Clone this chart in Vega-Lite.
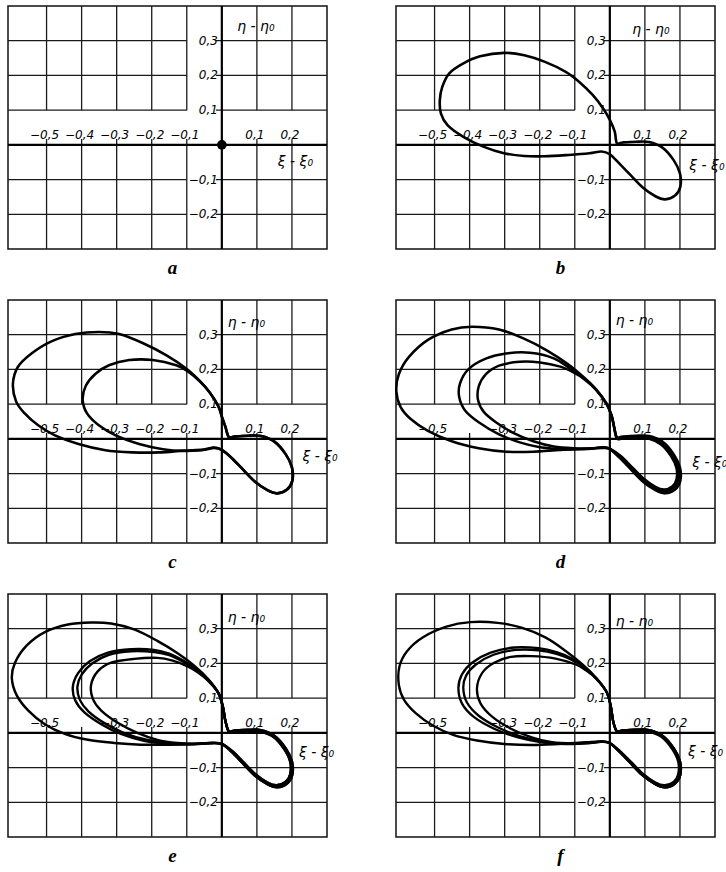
{
  "$schema": "https://vega.github.io/schema/vega-lite/v6.json",
  "background": "white",
  "padding": {"left": 6, "top": 4, "right": 0, "bottom": 0},
  "bounds": "flush",
  "columns": 2,
  "spacing": {"row": 51, "column": 69},
  "config": {
    "view": {"stroke": "#111", "strokeWidth": 1.5},
    "title": {"orient": "bottom", "font": "Liberation Serif", "fontSize": 19, "fontStyle": "italic", "fontWeight": "bold", "offset": 9, "baseline": "alphabetic", "anchor": "middle", "dx": 5, "frame": "group", "color": "#000"}
  },
  "datasets": {
    "grid": [
      {"x": -0.5, "x2": -0.5, "y": 0.1, "y2": 0.4}, {"x": -0.5, "x2": -0.5, "y": -0.3, "y2": 0.017},
      {"x": -0.4, "x2": -0.4, "y": 0.1, "y2": 0.4}, {"x": -0.4, "x2": -0.4, "y": -0.3, "y2": 0.017},
      {"x": -0.3, "x2": -0.3, "y": 0.1, "y2": 0.4}, {"x": -0.3, "x2": -0.3, "y": -0.3, "y2": 0.017},
      {"x": -0.2, "x2": -0.2, "y": 0.1, "y2": 0.4}, {"x": -0.2, "x2": -0.2, "y": -0.3, "y2": 0.017},
      {"x": -0.1, "x2": -0.1, "y": 0.1, "y2": 0.4}, {"x": -0.1, "x2": -0.1, "y": -0.3, "y2": 0.017},
      {"x": 0.1, "x2": 0.1, "y": 0.1, "y2": 0.4}, {"x": 0.1, "x2": 0.1, "y": -0.3, "y2": 0.017},
      {"x": 0.2, "x2": 0.2, "y": 0.1, "y2": 0.4}, {"x": 0.2, "x2": 0.2, "y": -0.3, "y2": 0.017},
      {"x": -0.61, "x2": -0.1, "y": 0.3, "y2": 0.3}, {"x": -0.017, "x2": 0.3, "y": 0.3, "y2": 0.3},
      {"x": -0.61, "x2": -0.1, "y": 0.2, "y2": 0.2}, {"x": -0.017, "x2": 0.3, "y": 0.2, "y2": 0.2},
      {"x": -0.61, "x2": -0.1, "y": 0.1, "y2": 0.1}, {"x": -0.017, "x2": 0.3, "y": 0.1, "y2": 0.1},
      {"x": -0.61, "x2": -0.1, "y": -0.1, "y2": -0.1}, {"x": -0.017, "x2": 0.3, "y": -0.1, "y2": -0.1},
      {"x": -0.61, "x2": -0.1, "y": -0.2, "y2": -0.2}, {"x": -0.017, "x2": 0.3, "y": -0.2, "y2": -0.2}
    ],
    "axes": [
      {"x": -0.61, "x2": 0.3, "y": 0, "y2": 0},
      {"x": 0, "x2": 0, "y": -0.3, "y2": 0.4}
    ],
    "ylab": [
      {"x": 0, "y": 0.3, "t": "0,3"}, {"x": 0, "y": 0.2, "t": "0,2"}, {"x": 0, "y": 0.1, "t": "0,1"},
      {"x": 0, "y": -0.1, "t": "−0,1"}, {"x": 0, "y": -0.2, "t": "−0,2"}
    ],
    "xlab": [
      {"g": "a", "x": -0.5, "y": 0, "t": "−0,5"}, {"g": "a", "x": -0.4, "y": 0, "t": "−0,4"}, {"g": "a", "x": -0.3, "y": 0, "t": "−0,3"}, {"g": "a", "x": -0.2, "y": 0, "t": "−0,2"}, {"g": "a", "x": -0.1, "y": 0, "t": "−0,1"}, {"g": "a", "x": 0.1, "y": 0, "t": "0,1"}, {"g": "a", "x": 0.2, "y": 0, "t": "0,2"},
      {"g": "b", "x": -0.5, "y": 0, "t": "−0,5"}, {"g": "b", "x": -0.4, "y": 0, "t": "−0,4"}, {"g": "b", "x": -0.3, "y": 0, "t": "−0,3"}, {"g": "b", "x": -0.2, "y": 0, "t": "−0,2"}, {"g": "b", "x": -0.1, "y": 0, "t": "−0,1"}, {"g": "b", "x": 0.1, "y": 0, "t": "0,1"}, {"g": "b", "x": 0.2, "y": 0, "t": "0,2"},
      {"g": "c", "x": -0.5, "y": 0, "t": "−0,5"}, {"g": "c", "x": -0.4, "y": 0, "t": "−0,4"}, {"g": "c", "x": -0.3, "y": 0, "t": "−0,3"}, {"g": "c", "x": -0.2, "y": 0, "t": "−0,2"}, {"g": "c", "x": -0.1, "y": 0, "t": "−0,1"}, {"g": "c", "x": 0.1, "y": 0, "t": "0,1"}, {"g": "c", "x": 0.2, "y": 0, "t": "0,2"},
      {"g": "d", "x": -0.5, "y": 0, "t": "−0,5"}, {"g": "d", "x": -0.3, "y": 0, "t": "−0,3"}, {"g": "d", "x": -0.2, "y": 0, "t": "−0,2"}, {"g": "d", "x": -0.1, "y": 0, "t": "−0,1"}, {"g": "d", "x": 0.1, "y": 0, "t": "0,1"}, {"g": "d", "x": 0.2, "y": 0, "t": "0,2"},
      {"g": "e", "x": -0.5, "y": 0, "t": "−0,5"}, {"g": "e", "x": -0.3, "y": 0, "t": "−0,3"}, {"g": "e", "x": -0.2, "y": 0, "t": "−0,2"}, {"g": "e", "x": -0.1, "y": 0, "t": "−0,1"}, {"g": "e", "x": 0.1, "y": 0, "t": "0,1"}, {"g": "e", "x": 0.2, "y": 0, "t": "0,2"},
      {"g": "f", "x": -0.5, "y": 0, "t": "−0,5"}, {"g": "f", "x": -0.3, "y": 0, "t": "−0,3"}, {"g": "f", "x": -0.2, "y": 0, "t": "−0,2"}, {"g": "f", "x": -0.1, "y": 0, "t": "−0,1"}, {"g": "f", "x": 0.1, "y": 0, "t": "0,1"}, {"g": "f", "x": 0.2, "y": 0, "t": "0,2"}
    ],
    "names": [
      {"g": "a", "x": 0.097, "y": 0.34, "t": "η - η₀"}, {"g": "a", "x": 0.21, "y": -0.05, "t": "ξ - ξ₀"},
      {"g": "b", "x": 0.117, "y": 0.33, "t": "η - η₀"}, {"g": "b", "x": 0.277, "y": -0.06, "t": "ξ - ξ₀"},
      {"g": "c", "x": 0.07, "y": 0.333, "t": "η - η₀"}, {"g": "c", "x": 0.28, "y": -0.052, "t": "ξ - ξ₀"},
      {"g": "d", "x": 0.07, "y": 0.34, "t": "η - η₀"}, {"g": "d", "x": 0.285, "y": -0.07, "t": "ξ - ξ₀"},
      {"g": "e", "x": 0.07, "y": 0.33, "t": "η - η₀"}, {"g": "e", "x": 0.27, "y": -0.058, "t": "ξ - ξ₀"},
      {"g": "f", "x": 0.07, "y": 0.32, "t": "η - η₀"}, {"g": "f", "x": 0.273, "y": -0.055, "t": "ξ - ξ₀"}
    ],
    "curves": [
      {"g": "b", "l": "b1", "x": 0.014, "y": 0.038}, {"g": "b", "l": "b1", "x": 0.0, "y": 0.072}, {"g": "b", "l": "b1", "x": -0.019, "y": 0.105}, {"g": "b", "l": "b1", "x": -0.049, "y": 0.144}, {"g": "b", "l": "b1", "x": -0.088, "y": 0.182}, {"g": "b", "l": "b1", "x": -0.127, "y": 0.211}, {"g": "b", "l": "b1", "x": -0.185, "y": 0.239}, {"g": "b", "l": "b1", "x": -0.244, "y": 0.258}, {"g": "b", "l": "b1", "x": -0.302, "y": 0.265}, {"g": "b", "l": "b1", "x": -0.37, "y": 0.255}, {"g": "b", "l": "b1", "x": -0.419, "y": 0.234}, {"g": "b", "l": "b1", "x": -0.458, "y": 0.206}, {"g": "b", "l": "b1", "x": -0.478, "y": 0.167}, {"g": "b", "l": "b1", "x": -0.485, "y": 0.129}, {"g": "b", "l": "b1", "x": -0.482, "y": 0.091}, {"g": "b", "l": "b1", "x": -0.463, "y": 0.057}, {"g": "b", "l": "b1", "x": -0.419, "y": 0.024}, {"g": "b", "l": "b1", "x": -0.361, "y": -0.005}, {"g": "b", "l": "b1", "x": -0.302, "y": -0.024}, {"g": "b", "l": "b1", "x": -0.244, "y": -0.032}, {"g": "b", "l": "b1", "x": -0.185, "y": -0.033}, {"g": "b", "l": "b1", "x": -0.117, "y": -0.029}, {"g": "b", "l": "b1", "x": -0.058, "y": -0.024}, {"g": "b", "l": "b1", "x": -0.024, "y": -0.019}, {"g": "b", "l": "b1", "x": 0.0, "y": -0.027},
      {"g": "b", "l": "b1", "x": 0.028, "y": -0.055}, {"g": "b", "l": "b1", "x": 0.06, "y": -0.088}, {"g": "b", "l": "b1", "x": 0.093, "y": -0.122}, {"g": "b", "l": "b1", "x": 0.13, "y": -0.148}, {"g": "b", "l": "b1", "x": 0.158, "y": -0.157}, {"g": "b", "l": "b1", "x": 0.186, "y": -0.146}, {"g": "b", "l": "b1", "x": 0.201, "y": -0.121}, {"g": "b", "l": "b1", "x": 0.2, "y": -0.082}, {"g": "b", "l": "b1", "x": 0.182, "y": -0.044}, {"g": "b", "l": "b1", "x": 0.15, "y": -0.008}, {"g": "b", "l": "b1", "x": 0.112, "y": 0.008}, {"g": "b", "l": "b1", "x": 0.074, "y": 0.009}, {"g": "b", "l": "b1", "x": 0.037, "y": 0.007}, {"g": "b", "l": "b1", "x": 0.02, "y": 0.005},

      {"g": "c", "l": "c1", "x": 0.01, "y": 0.035}, {"g": "c", "l": "c1", "x": 0.0, "y": 0.064}, {"g": "c", "l": "c1", "x": -0.01, "y": 0.094}, {"g": "c", "l": "c1", "x": -0.034, "y": 0.133}, {"g": "c", "l": "c1", "x": -0.063, "y": 0.167}, {"g": "c", "l": "c1", "x": -0.101, "y": 0.202}, {"g": "c", "l": "c1", "x": -0.159, "y": 0.241}, {"g": "c", "l": "c1", "x": -0.226, "y": 0.276}, {"g": "c", "l": "c1", "x": -0.293, "y": 0.302}, {"g": "c", "l": "c1", "x": -0.351, "y": 0.308}, {"g": "c", "l": "c1", "x": -0.418, "y": 0.302}, {"g": "c", "l": "c1", "x": -0.486, "y": 0.281}, {"g": "c", "l": "c1", "x": -0.543, "y": 0.246}, {"g": "c", "l": "c1", "x": -0.582, "y": 0.207}, {"g": "c", "l": "c1", "x": -0.596, "y": 0.158}, {"g": "c", "l": "c1", "x": -0.587, "y": 0.108}, {"g": "c", "l": "c1", "x": -0.563, "y": 0.074}, {"g": "c", "l": "c1", "x": -0.524, "y": 0.039}, {"g": "c", "l": "c1", "x": -0.476, "y": 0.01}, {"g": "c", "l": "c1", "x": -0.409, "y": -0.015}, {"g": "c", "l": "c1", "x": -0.332, "y": -0.033}, {"g": "c", "l": "c1", "x": -0.255, "y": -0.039}, {"g": "c", "l": "c1", "x": -0.178, "y": -0.039}, {"g": "c", "l": "c1", "x": -0.111, "y": -0.034}, {"g": "c", "l": "c1", "x": -0.053, "y": -0.031}, {"g": "c", "l": "c1", "x": -0.022, "y": -0.025}, {"g": "c", "l": "c1", "x": 0.0, "y": -0.032},
      {"g": "c", "l": "c1", "x": 0.028, "y": -0.055}, {"g": "c", "l": "c1", "x": 0.06, "y": -0.088}, {"g": "c", "l": "c1", "x": 0.093, "y": -0.122}, {"g": "c", "l": "c1", "x": 0.13, "y": -0.148}, {"g": "c", "l": "c1", "x": 0.158, "y": -0.157}, {"g": "c", "l": "c1", "x": 0.186, "y": -0.146}, {"g": "c", "l": "c1", "x": 0.201, "y": -0.121}, {"g": "c", "l": "c1", "x": 0.2, "y": -0.082}, {"g": "c", "l": "c1", "x": 0.182, "y": -0.044}, {"g": "c", "l": "c1", "x": 0.15, "y": -0.008}, {"g": "c", "l": "c1", "x": 0.112, "y": 0.008}, {"g": "c", "l": "c1", "x": 0.074, "y": 0.009}, {"g": "c", "l": "c1", "x": 0.037, "y": 0.007}, {"g": "c", "l": "c1", "x": 0.02, "y": 0.005},

      {"g": "c", "l": "c2", "x": 0.01, "y": 0.035}, {"g": "c", "l": "c2", "x": 0.0, "y": 0.064}, {"g": "c", "l": "c2", "x": -0.01, "y": 0.094}, {"g": "c", "l": "c2", "x": -0.034, "y": 0.133}, {"g": "c", "l": "c2", "x": -0.063, "y": 0.166}, {"g": "c", "l": "c2", "x": -0.095, "y": 0.193}, {"g": "c", "l": "c2", "x": -0.13, "y": 0.212}, {"g": "c", "l": "c2", "x": -0.197, "y": 0.227}, {"g": "c", "l": "c2", "x": -0.264, "y": 0.227}, {"g": "c", "l": "c2", "x": -0.322, "y": 0.212}, {"g": "c", "l": "c2", "x": -0.361, "y": 0.187}, {"g": "c", "l": "c2", "x": -0.388, "y": 0.153}, {"g": "c", "l": "c2", "x": -0.397, "y": 0.113}, {"g": "c", "l": "c2", "x": -0.385, "y": 0.074}, {"g": "c", "l": "c2", "x": -0.351, "y": 0.039}, {"g": "c", "l": "c2", "x": -0.303, "y": 0.01}, {"g": "c", "l": "c2", "x": -0.236, "y": -0.015}, {"g": "c", "l": "c2", "x": -0.168, "y": -0.03}, {"g": "c", "l": "c2", "x": -0.111, "y": -0.035}, {"g": "c", "l": "c2", "x": -0.053, "y": -0.032}, {"g": "c", "l": "c2", "x": -0.022, "y": -0.026}, {"g": "c", "l": "c2", "x": 0.0, "y": -0.032},
      {"g": "c", "l": "c2", "x": 0.028, "y": -0.055}, {"g": "c", "l": "c2", "x": 0.06, "y": -0.088}, {"g": "c", "l": "c2", "x": 0.093, "y": -0.122}, {"g": "c", "l": "c2", "x": 0.13, "y": -0.148}, {"g": "c", "l": "c2", "x": 0.158, "y": -0.157}, {"g": "c", "l": "c2", "x": 0.186, "y": -0.146}, {"g": "c", "l": "c2", "x": 0.201, "y": -0.121}, {"g": "c", "l": "c2", "x": 0.2, "y": -0.082}, {"g": "c", "l": "c2", "x": 0.182, "y": -0.044}, {"g": "c", "l": "c2", "x": 0.15, "y": -0.008}, {"g": "c", "l": "c2", "x": 0.112, "y": 0.008}, {"g": "c", "l": "c2", "x": 0.074, "y": 0.009}, {"g": "c", "l": "c2", "x": 0.037, "y": 0.007}, {"g": "c", "l": "c2", "x": 0.02, "y": 0.005},

      {"g": "d", "l": "d1", "x": 0.012, "y": 0.035}, {"g": "d", "l": "d1", "x": 0.005, "y": 0.067}, {"g": "d", "l": "d1", "x": -0.01, "y": 0.102}, {"g": "d", "l": "d1", "x": -0.039, "y": 0.142}, {"g": "d", "l": "d1", "x": -0.073, "y": 0.176}, {"g": "d", "l": "d1", "x": -0.121, "y": 0.216}, {"g": "d", "l": "d1", "x": -0.18, "y": 0.255}, {"g": "d", "l": "d1", "x": -0.248, "y": 0.29}, {"g": "d", "l": "d1", "x": -0.316, "y": 0.315}, {"g": "d", "l": "d1", "x": -0.393, "y": 0.323}, {"g": "d", "l": "d1", "x": -0.451, "y": 0.315}, {"g": "d", "l": "d1", "x": -0.519, "y": 0.285}, {"g": "d", "l": "d1", "x": -0.573, "y": 0.236}, {"g": "d", "l": "d1", "x": -0.602, "y": 0.186}, {"g": "d", "l": "d1", "x": -0.609, "y": 0.137}, {"g": "d", "l": "d1", "x": -0.597, "y": 0.092}, {"g": "d", "l": "d1", "x": -0.568, "y": 0.057}, {"g": "d", "l": "d1", "x": -0.519, "y": 0.023}, {"g": "d", "l": "d1", "x": -0.451, "y": -0.007}, {"g": "d", "l": "d1", "x": -0.374, "y": -0.027}, {"g": "d", "l": "d1", "x": -0.296, "y": -0.037}, {"g": "d", "l": "d1", "x": -0.218, "y": -0.037}, {"g": "d", "l": "d1", "x": -0.141, "y": -0.032}, {"g": "d", "l": "d1", "x": -0.063, "y": -0.029}, {"g": "d", "l": "d1", "x": -0.02, "y": -0.026}, {"g": "d", "l": "d1", "x": 0.0, "y": -0.03},
      {"g": "d", "l": "d1", "x": 0.028, "y": -0.055}, {"g": "d", "l": "d1", "x": 0.06, "y": -0.088}, {"g": "d", "l": "d1", "x": 0.093, "y": -0.122}, {"g": "d", "l": "d1", "x": 0.13, "y": -0.148}, {"g": "d", "l": "d1", "x": 0.158, "y": -0.157}, {"g": "d", "l": "d1", "x": 0.186, "y": -0.146}, {"g": "d", "l": "d1", "x": 0.201, "y": -0.121}, {"g": "d", "l": "d1", "x": 0.2, "y": -0.082}, {"g": "d", "l": "d1", "x": 0.182, "y": -0.044}, {"g": "d", "l": "d1", "x": 0.15, "y": -0.008}, {"g": "d", "l": "d1", "x": 0.112, "y": 0.008}, {"g": "d", "l": "d1", "x": 0.074, "y": 0.009}, {"g": "d", "l": "d1", "x": 0.037, "y": 0.007}, {"g": "d", "l": "d1", "x": 0.02, "y": 0.005},

      {"g": "d", "l": "d2", "x": 0.012, "y": 0.035}, {"g": "d", "l": "d2", "x": 0.005, "y": 0.067}, {"g": "d", "l": "d2", "x": -0.01, "y": 0.102}, {"g": "d", "l": "d2", "x": -0.039, "y": 0.142}, {"g": "d", "l": "d2", "x": -0.073, "y": 0.175}, {"g": "d", "l": "d2", "x": -0.11, "y": 0.2}, {"g": "d", "l": "d2", "x": -0.16, "y": 0.232}, {"g": "d", "l": "d2", "x": -0.228, "y": 0.248}, {"g": "d", "l": "d2", "x": -0.296, "y": 0.246}, {"g": "d", "l": "d2", "x": -0.354, "y": 0.231}, {"g": "d", "l": "d2", "x": -0.403, "y": 0.201}, {"g": "d", "l": "d2", "x": -0.427, "y": 0.161}, {"g": "d", "l": "d2", "x": -0.43, "y": 0.122}, {"g": "d", "l": "d2", "x": -0.413, "y": 0.082}, {"g": "d", "l": "d2", "x": -0.374, "y": 0.048}, {"g": "d", "l": "d2", "x": -0.316, "y": 0.013}, {"g": "d", "l": "d2", "x": -0.257, "y": -0.01}, {"g": "d", "l": "d2", "x": -0.199, "y": -0.024}, {"g": "d", "l": "d2", "x": -0.131, "y": -0.03}, {"g": "d", "l": "d2", "x": -0.063, "y": -0.028}, {"g": "d", "l": "d2", "x": -0.02, "y": -0.025}, {"g": "d", "l": "d2", "x": 0.0, "y": -0.029},
      {"g": "d", "l": "d2", "x": 0.03, "y": -0.053}, {"g": "d", "l": "d2", "x": 0.062, "y": -0.085}, {"g": "d", "l": "d2", "x": 0.095, "y": -0.118}, {"g": "d", "l": "d2", "x": 0.13, "y": -0.143}, {"g": "d", "l": "d2", "x": 0.156, "y": -0.151}, {"g": "d", "l": "d2", "x": 0.182, "y": -0.141}, {"g": "d", "l": "d2", "x": 0.195, "y": -0.119}, {"g": "d", "l": "d2", "x": 0.195, "y": -0.083}, {"g": "d", "l": "d2", "x": 0.178, "y": -0.047}, {"g": "d", "l": "d2", "x": 0.148, "y": -0.012}, {"g": "d", "l": "d2", "x": 0.112, "y": 0.003}, {"g": "d", "l": "d2", "x": 0.074, "y": 0.005}, {"g": "d", "l": "d2", "x": 0.037, "y": 0.004}, {"g": "d", "l": "d2", "x": 0.02, "y": 0.003},

      {"g": "d", "l": "d3", "x": 0.012, "y": 0.035}, {"g": "d", "l": "d3", "x": 0.005, "y": 0.067}, {"g": "d", "l": "d3", "x": -0.01, "y": 0.102}, {"g": "d", "l": "d3", "x": -0.039, "y": 0.141}, {"g": "d", "l": "d3", "x": -0.073, "y": 0.172}, {"g": "d", "l": "d3", "x": -0.105, "y": 0.192}, {"g": "d", "l": "d3", "x": -0.141, "y": 0.208}, {"g": "d", "l": "d3", "x": -0.199, "y": 0.22}, {"g": "d", "l": "d3", "x": -0.257, "y": 0.222}, {"g": "d", "l": "d3", "x": -0.316, "y": 0.211}, {"g": "d", "l": "d3", "x": -0.354, "y": 0.186}, {"g": "d", "l": "d3", "x": -0.374, "y": 0.151}, {"g": "d", "l": "d3", "x": -0.376, "y": 0.112}, {"g": "d", "l": "d3", "x": -0.359, "y": 0.077}, {"g": "d", "l": "d3", "x": -0.325, "y": 0.048}, {"g": "d", "l": "d3", "x": -0.277, "y": 0.018}, {"g": "d", "l": "d3", "x": -0.218, "y": -0.007}, {"g": "d", "l": "d3", "x": -0.16, "y": -0.022}, {"g": "d", "l": "d3", "x": -0.1, "y": -0.027}, {"g": "d", "l": "d3", "x": -0.05, "y": -0.027}, {"g": "d", "l": "d3", "x": -0.02, "y": -0.024}, {"g": "d", "l": "d3", "x": 0.0, "y": -0.028},
      {"g": "d", "l": "d3", "x": 0.032, "y": -0.05}, {"g": "d", "l": "d3", "x": 0.064, "y": -0.082}, {"g": "d", "l": "d3", "x": 0.096, "y": -0.114}, {"g": "d", "l": "d3", "x": 0.13, "y": -0.138}, {"g": "d", "l": "d3", "x": 0.155, "y": -0.146}, {"g": "d", "l": "d3", "x": 0.178, "y": -0.137}, {"g": "d", "l": "d3", "x": 0.19, "y": -0.117}, {"g": "d", "l": "d3", "x": 0.19, "y": -0.084}, {"g": "d", "l": "d3", "x": 0.174, "y": -0.049}, {"g": "d", "l": "d3", "x": 0.146, "y": -0.016}, {"g": "d", "l": "d3", "x": 0.112, "y": 0.0}, {"g": "d", "l": "d3", "x": 0.074, "y": 0.002}, {"g": "d", "l": "d3", "x": 0.037, "y": 0.001}, {"g": "d", "l": "d3", "x": 0.02, "y": 0.001},

      {"g": "e", "l": "e1", "x": 0.01, "y": 0.035}, {"g": "e", "l": "e1", "x": 0.003, "y": 0.075}, {"g": "e", "l": "e1", "x": -0.01, "y": 0.115}, {"g": "e", "l": "e1", "x": -0.039, "y": 0.155}, {"g": "e", "l": "e1", "x": -0.078, "y": 0.193}, {"g": "e", "l": "e1", "x": -0.124, "y": 0.228}, {"g": "e", "l": "e1", "x": -0.184, "y": 0.265}, {"g": "e", "l": "e1", "x": -0.25, "y": 0.298}, {"g": "e", "l": "e1", "x": -0.316, "y": 0.315}, {"g": "e", "l": "e1", "x": -0.373, "y": 0.318}, {"g": "e", "l": "e1", "x": -0.439, "y": 0.312}, {"g": "e", "l": "e1", "x": -0.505, "y": 0.29}, {"g": "e", "l": "e1", "x": -0.557, "y": 0.251}, {"g": "e", "l": "e1", "x": -0.59, "y": 0.202}, {"g": "e", "l": "e1", "x": -0.599, "y": 0.157}, {"g": "e", "l": "e1", "x": -0.585, "y": 0.108}, {"g": "e", "l": "e1", "x": -0.552, "y": 0.064}, {"g": "e", "l": "e1", "x": -0.505, "y": 0.025}, {"g": "e", "l": "e1", "x": -0.448, "y": -0.003}, {"g": "e", "l": "e1", "x": -0.382, "y": -0.02}, {"g": "e", "l": "e1", "x": -0.307, "y": -0.029}, {"g": "e", "l": "e1", "x": -0.231, "y": -0.034}, {"g": "e", "l": "e1", "x": -0.156, "y": -0.034}, {"g": "e", "l": "e1", "x": -0.08, "y": -0.032}, {"g": "e", "l": "e1", "x": -0.03, "y": -0.029}, {"g": "e", "l": "e1", "x": 0.0, "y": -0.032},
      {"g": "e", "l": "e1", "x": 0.028, "y": -0.055}, {"g": "e", "l": "e1", "x": 0.06, "y": -0.088}, {"g": "e", "l": "e1", "x": 0.093, "y": -0.122}, {"g": "e", "l": "e1", "x": 0.13, "y": -0.148}, {"g": "e", "l": "e1", "x": 0.158, "y": -0.157}, {"g": "e", "l": "e1", "x": 0.186, "y": -0.146}, {"g": "e", "l": "e1", "x": 0.201, "y": -0.121}, {"g": "e", "l": "e1", "x": 0.2, "y": -0.082}, {"g": "e", "l": "e1", "x": 0.182, "y": -0.044}, {"g": "e", "l": "e1", "x": 0.15, "y": -0.008}, {"g": "e", "l": "e1", "x": 0.112, "y": 0.008}, {"g": "e", "l": "e1", "x": 0.074, "y": 0.009}, {"g": "e", "l": "e1", "x": 0.037, "y": 0.007}, {"g": "e", "l": "e1", "x": 0.02, "y": 0.005},

      {"g": "e", "l": "e2", "x": 0.01, "y": 0.035}, {"g": "e", "l": "e2", "x": 0.003, "y": 0.075}, {"g": "e", "l": "e2", "x": -0.01, "y": 0.115}, {"g": "e", "l": "e2", "x": -0.039, "y": 0.153}, {"g": "e", "l": "e2", "x": -0.075, "y": 0.185}, {"g": "e", "l": "e2", "x": -0.11, "y": 0.208}, {"g": "e", "l": "e2", "x": -0.15, "y": 0.228}, {"g": "e", "l": "e2", "x": -0.193, "y": 0.239}, {"g": "e", "l": "e2", "x": -0.259, "y": 0.241}, {"g": "e", "l": "e2", "x": -0.325, "y": 0.231}, {"g": "e", "l": "e2", "x": -0.377, "y": 0.206}, {"g": "e", "l": "e2", "x": -0.41, "y": 0.172}, {"g": "e", "l": "e2", "x": -0.425, "y": 0.133}, {"g": "e", "l": "e2", "x": -0.418, "y": 0.093}, {"g": "e", "l": "e2", "x": -0.392, "y": 0.059}, {"g": "e", "l": "e2", "x": -0.344, "y": 0.025}, {"g": "e", "l": "e2", "x": -0.288, "y": -0.003}, {"g": "e", "l": "e2", "x": -0.222, "y": -0.023}, {"g": "e", "l": "e2", "x": -0.156, "y": -0.032}, {"g": "e", "l": "e2", "x": -0.09, "y": -0.033}, {"g": "e", "l": "e2", "x": -0.03, "y": -0.03}, {"g": "e", "l": "e2", "x": 0.0, "y": -0.033},
      {"g": "e", "l": "e2", "x": 0.03, "y": -0.053}, {"g": "e", "l": "e2", "x": 0.062, "y": -0.085}, {"g": "e", "l": "e2", "x": 0.095, "y": -0.118}, {"g": "e", "l": "e2", "x": 0.13, "y": -0.143}, {"g": "e", "l": "e2", "x": 0.156, "y": -0.151}, {"g": "e", "l": "e2", "x": 0.182, "y": -0.141}, {"g": "e", "l": "e2", "x": 0.195, "y": -0.119}, {"g": "e", "l": "e2", "x": 0.195, "y": -0.083}, {"g": "e", "l": "e2", "x": 0.178, "y": -0.047}, {"g": "e", "l": "e2", "x": 0.148, "y": -0.012}, {"g": "e", "l": "e2", "x": 0.112, "y": 0.003}, {"g": "e", "l": "e2", "x": 0.074, "y": 0.005}, {"g": "e", "l": "e2", "x": 0.037, "y": 0.004}, {"g": "e", "l": "e2", "x": 0.02, "y": 0.003},

      {"g": "e", "l": "e3", "x": 0.01, "y": 0.035}, {"g": "e", "l": "e3", "x": 0.003, "y": 0.075}, {"g": "e", "l": "e3", "x": -0.01, "y": 0.115}, {"g": "e", "l": "e3", "x": -0.039, "y": 0.152}, {"g": "e", "l": "e3", "x": -0.075, "y": 0.183}, {"g": "e", "l": "e3", "x": -0.11, "y": 0.205}, {"g": "e", "l": "e3", "x": -0.15, "y": 0.224}, {"g": "e", "l": "e3", "x": -0.193, "y": 0.233}, {"g": "e", "l": "e3", "x": -0.259, "y": 0.235}, {"g": "e", "l": "e3", "x": -0.322, "y": 0.225}, {"g": "e", "l": "e3", "x": -0.37, "y": 0.2}, {"g": "e", "l": "e3", "x": -0.4, "y": 0.168}, {"g": "e", "l": "e3", "x": -0.412, "y": 0.133}, {"g": "e", "l": "e3", "x": -0.405, "y": 0.095}, {"g": "e", "l": "e3", "x": -0.38, "y": 0.061}, {"g": "e", "l": "e3", "x": -0.335, "y": 0.028}, {"g": "e", "l": "e3", "x": -0.28, "y": 0.0}, {"g": "e", "l": "e3", "x": -0.215, "y": -0.02}, {"g": "e", "l": "e3", "x": -0.15, "y": -0.03}, {"g": "e", "l": "e3", "x": -0.09, "y": -0.032}, {"g": "e", "l": "e3", "x": -0.03, "y": -0.029}, {"g": "e", "l": "e3", "x": 0.0, "y": -0.032},
      {"g": "e", "l": "e3", "x": 0.028, "y": -0.055}, {"g": "e", "l": "e3", "x": 0.06, "y": -0.088}, {"g": "e", "l": "e3", "x": 0.093, "y": -0.122}, {"g": "e", "l": "e3", "x": 0.13, "y": -0.148}, {"g": "e", "l": "e3", "x": 0.158, "y": -0.157}, {"g": "e", "l": "e3", "x": 0.186, "y": -0.146}, {"g": "e", "l": "e3", "x": 0.201, "y": -0.121}, {"g": "e", "l": "e3", "x": 0.2, "y": -0.082}, {"g": "e", "l": "e3", "x": 0.182, "y": -0.044}, {"g": "e", "l": "e3", "x": 0.15, "y": -0.008}, {"g": "e", "l": "e3", "x": 0.112, "y": 0.008}, {"g": "e", "l": "e3", "x": 0.074, "y": 0.009}, {"g": "e", "l": "e3", "x": 0.037, "y": 0.007}, {"g": "e", "l": "e3", "x": 0.02, "y": 0.005},

      {"g": "e", "l": "e4", "x": 0.01, "y": 0.035}, {"g": "e", "l": "e4", "x": 0.003, "y": 0.075}, {"g": "e", "l": "e4", "x": -0.01, "y": 0.115}, {"g": "e", "l": "e4", "x": -0.039, "y": 0.15}, {"g": "e", "l": "e4", "x": -0.07, "y": 0.175}, {"g": "e", "l": "e4", "x": -0.099, "y": 0.192}, {"g": "e", "l": "e4", "x": -0.14, "y": 0.208}, {"g": "e", "l": "e4", "x": -0.184, "y": 0.216}, {"g": "e", "l": "e4", "x": -0.25, "y": 0.213}, {"g": "e", "l": "e4", "x": -0.316, "y": 0.202}, {"g": "e", "l": "e4", "x": -0.354, "y": 0.177}, {"g": "e", "l": "e4", "x": -0.373, "y": 0.138}, {"g": "e", "l": "e4", "x": -0.368, "y": 0.098}, {"g": "e", "l": "e4", "x": -0.344, "y": 0.064}, {"g": "e", "l": "e4", "x": -0.297, "y": 0.029}, {"g": "e", "l": "e4", "x": -0.241, "y": 0.0}, {"g": "e", "l": "e4", "x": -0.184, "y": -0.02}, {"g": "e", "l": "e4", "x": -0.127, "y": -0.029}, {"g": "e", "l": "e4", "x": -0.07, "y": -0.031}, {"g": "e", "l": "e4", "x": -0.03, "y": -0.029}, {"g": "e", "l": "e4", "x": 0.0, "y": -0.032},
      {"g": "e", "l": "e4", "x": 0.03, "y": -0.053}, {"g": "e", "l": "e4", "x": 0.062, "y": -0.085}, {"g": "e", "l": "e4", "x": 0.095, "y": -0.118}, {"g": "e", "l": "e4", "x": 0.13, "y": -0.143}, {"g": "e", "l": "e4", "x": 0.156, "y": -0.151}, {"g": "e", "l": "e4", "x": 0.182, "y": -0.141}, {"g": "e", "l": "e4", "x": 0.195, "y": -0.119}, {"g": "e", "l": "e4", "x": 0.195, "y": -0.083}, {"g": "e", "l": "e4", "x": 0.178, "y": -0.047}, {"g": "e", "l": "e4", "x": 0.148, "y": -0.012}, {"g": "e", "l": "e4", "x": 0.112, "y": 0.003}, {"g": "e", "l": "e4", "x": 0.074, "y": 0.005}, {"g": "e", "l": "e4", "x": 0.037, "y": 0.004}, {"g": "e", "l": "e4", "x": 0.02, "y": 0.003},

      {"g": "f", "l": "f1", "x": 0.01, "y": 0.031}, {"g": "f", "l": "f1", "x": 0.002, "y": 0.08}, {"g": "f", "l": "f1", "x": -0.01, "y": 0.119}, {"g": "f", "l": "f1", "x": -0.039, "y": 0.158}, {"g": "f", "l": "f1", "x": -0.078, "y": 0.197}, {"g": "f", "l": "f1", "x": -0.126, "y": 0.236}, {"g": "f", "l": "f1", "x": -0.184, "y": 0.275}, {"g": "f", "l": "f1", "x": -0.252, "y": 0.303}, {"g": "f", "l": "f1", "x": -0.32, "y": 0.317}, {"g": "f", "l": "f1", "x": -0.398, "y": 0.319}, {"g": "f", "l": "f1", "x": -0.466, "y": 0.306}, {"g": "f", "l": "f1", "x": -0.534, "y": 0.275}, {"g": "f", "l": "f1", "x": -0.578, "y": 0.236}, {"g": "f", "l": "f1", "x": -0.6, "y": 0.192}, {"g": "f", "l": "f1", "x": -0.602, "y": 0.139}, {"g": "f", "l": "f1", "x": -0.587, "y": 0.095}, {"g": "f", "l": "f1", "x": -0.553, "y": 0.056}, {"g": "f", "l": "f1", "x": -0.505, "y": 0.021}, {"g": "f", "l": "f1", "x": -0.447, "y": -0.006}, {"g": "f", "l": "f1", "x": -0.379, "y": -0.022}, {"g": "f", "l": "f1", "x": -0.301, "y": -0.032}, {"g": "f", "l": "f1", "x": -0.223, "y": -0.035}, {"g": "f", "l": "f1", "x": -0.146, "y": -0.032}, {"g": "f", "l": "f1", "x": -0.068, "y": -0.027}, {"g": "f", "l": "f1", "x": -0.025, "y": -0.025}, {"g": "f", "l": "f1", "x": 0.0, "y": -0.03},
      {"g": "f", "l": "f1", "x": 0.028, "y": -0.055}, {"g": "f", "l": "f1", "x": 0.06, "y": -0.088}, {"g": "f", "l": "f1", "x": 0.093, "y": -0.122}, {"g": "f", "l": "f1", "x": 0.13, "y": -0.148}, {"g": "f", "l": "f1", "x": 0.158, "y": -0.157}, {"g": "f", "l": "f1", "x": 0.186, "y": -0.146}, {"g": "f", "l": "f1", "x": 0.201, "y": -0.121}, {"g": "f", "l": "f1", "x": 0.2, "y": -0.082}, {"g": "f", "l": "f1", "x": 0.182, "y": -0.044}, {"g": "f", "l": "f1", "x": 0.15, "y": -0.008}, {"g": "f", "l": "f1", "x": 0.112, "y": 0.008}, {"g": "f", "l": "f1", "x": 0.074, "y": 0.009}, {"g": "f", "l": "f1", "x": 0.037, "y": 0.007}, {"g": "f", "l": "f1", "x": 0.02, "y": 0.005},

      {"g": "f", "l": "f2", "x": 0.01, "y": 0.031}, {"g": "f", "l": "f2", "x": 0.002, "y": 0.08}, {"g": "f", "l": "f2", "x": -0.01, "y": 0.119}, {"g": "f", "l": "f2", "x": -0.039, "y": 0.158}, {"g": "f", "l": "f2", "x": -0.075, "y": 0.192}, {"g": "f", "l": "f2", "x": -0.11, "y": 0.215}, {"g": "f", "l": "f2", "x": -0.15, "y": 0.232}, {"g": "f", "l": "f2", "x": -0.204, "y": 0.244}, {"g": "f", "l": "f2", "x": -0.272, "y": 0.246}, {"g": "f", "l": "f2", "x": -0.34, "y": 0.231}, {"g": "f", "l": "f2", "x": -0.393, "y": 0.202}, {"g": "f", "l": "f2", "x": -0.422, "y": 0.168}, {"g": "f", "l": "f2", "x": -0.432, "y": 0.129}, {"g": "f", "l": "f2", "x": -0.422, "y": 0.085}, {"g": "f", "l": "f2", "x": -0.388, "y": 0.046}, {"g": "f", "l": "f2", "x": -0.33, "y": 0.012}, {"g": "f", "l": "f2", "x": -0.262, "y": -0.013}, {"g": "f", "l": "f2", "x": -0.194, "y": -0.027}, {"g": "f", "l": "f2", "x": -0.126, "y": -0.032}, {"g": "f", "l": "f2", "x": -0.06, "y": -0.03}, {"g": "f", "l": "f2", "x": -0.025, "y": -0.026}, {"g": "f", "l": "f2", "x": 0.0, "y": -0.03},
      {"g": "f", "l": "f2", "x": 0.028, "y": -0.055}, {"g": "f", "l": "f2", "x": 0.06, "y": -0.088}, {"g": "f", "l": "f2", "x": 0.093, "y": -0.122}, {"g": "f", "l": "f2", "x": 0.13, "y": -0.148}, {"g": "f", "l": "f2", "x": 0.158, "y": -0.157}, {"g": "f", "l": "f2", "x": 0.186, "y": -0.146}, {"g": "f", "l": "f2", "x": 0.201, "y": -0.121}, {"g": "f", "l": "f2", "x": 0.2, "y": -0.082}, {"g": "f", "l": "f2", "x": 0.182, "y": -0.044}, {"g": "f", "l": "f2", "x": 0.15, "y": -0.008}, {"g": "f", "l": "f2", "x": 0.112, "y": 0.008}, {"g": "f", "l": "f2", "x": 0.074, "y": 0.009}, {"g": "f", "l": "f2", "x": 0.037, "y": 0.007}, {"g": "f", "l": "f2", "x": 0.02, "y": 0.005},

      {"g": "f", "l": "f3", "x": 0.01, "y": 0.031}, {"g": "f", "l": "f3", "x": 0.002, "y": 0.08}, {"g": "f", "l": "f3", "x": -0.01, "y": 0.119}, {"g": "f", "l": "f3", "x": -0.039, "y": 0.157}, {"g": "f", "l": "f3", "x": -0.073, "y": 0.189}, {"g": "f", "l": "f3", "x": -0.11, "y": 0.211}, {"g": "f", "l": "f3", "x": -0.15, "y": 0.227}, {"g": "f", "l": "f3", "x": -0.204, "y": 0.238}, {"g": "f", "l": "f3", "x": -0.268, "y": 0.239}, {"g": "f", "l": "f3", "x": -0.332, "y": 0.225}, {"g": "f", "l": "f3", "x": -0.382, "y": 0.197}, {"g": "f", "l": "f3", "x": -0.41, "y": 0.165}, {"g": "f", "l": "f3", "x": -0.418, "y": 0.129}, {"g": "f", "l": "f3", "x": -0.408, "y": 0.088}, {"g": "f", "l": "f3", "x": -0.375, "y": 0.05}, {"g": "f", "l": "f3", "x": -0.32, "y": 0.016}, {"g": "f", "l": "f3", "x": -0.255, "y": -0.01}, {"g": "f", "l": "f3", "x": -0.19, "y": -0.025}, {"g": "f", "l": "f3", "x": -0.126, "y": -0.031}, {"g": "f", "l": "f3", "x": -0.06, "y": -0.029}, {"g": "f", "l": "f3", "x": -0.025, "y": -0.025}, {"g": "f", "l": "f3", "x": 0.0, "y": -0.029},
      {"g": "f", "l": "f3", "x": 0.03, "y": -0.053}, {"g": "f", "l": "f3", "x": 0.062, "y": -0.085}, {"g": "f", "l": "f3", "x": 0.095, "y": -0.118}, {"g": "f", "l": "f3", "x": 0.13, "y": -0.143}, {"g": "f", "l": "f3", "x": 0.156, "y": -0.151}, {"g": "f", "l": "f3", "x": 0.182, "y": -0.141}, {"g": "f", "l": "f3", "x": 0.195, "y": -0.119}, {"g": "f", "l": "f3", "x": 0.195, "y": -0.083}, {"g": "f", "l": "f3", "x": 0.178, "y": -0.047}, {"g": "f", "l": "f3", "x": 0.148, "y": -0.012}, {"g": "f", "l": "f3", "x": 0.112, "y": 0.003}, {"g": "f", "l": "f3", "x": 0.074, "y": 0.005}, {"g": "f", "l": "f3", "x": 0.037, "y": 0.004}, {"g": "f", "l": "f3", "x": 0.02, "y": 0.003},

      {"g": "f", "l": "f4", "x": 0.01, "y": 0.031}, {"g": "f", "l": "f4", "x": 0.002, "y": 0.08}, {"g": "f", "l": "f4", "x": -0.01, "y": 0.119}, {"g": "f", "l": "f4", "x": -0.039, "y": 0.156}, {"g": "f", "l": "f4", "x": -0.068, "y": 0.18}, {"g": "f", "l": "f4", "x": -0.097, "y": 0.197}, {"g": "f", "l": "f4", "x": -0.155, "y": 0.214}, {"g": "f", "l": "f4", "x": -0.223, "y": 0.221}, {"g": "f", "l": "f4", "x": -0.282, "y": 0.219}, {"g": "f", "l": "f4", "x": -0.33, "y": 0.202}, {"g": "f", "l": "f4", "x": -0.364, "y": 0.173}, {"g": "f", "l": "f4", "x": -0.379, "y": 0.129}, {"g": "f", "l": "f4", "x": -0.369, "y": 0.085}, {"g": "f", "l": "f4", "x": -0.335, "y": 0.046}, {"g": "f", "l": "f4", "x": -0.282, "y": 0.012}, {"g": "f", "l": "f4", "x": -0.223, "y": -0.013}, {"g": "f", "l": "f4", "x": -0.165, "y": -0.027}, {"g": "f", "l": "f4", "x": -0.1, "y": -0.03}, {"g": "f", "l": "f4", "x": -0.05, "y": -0.028}, {"g": "f", "l": "f4", "x": -0.02, "y": -0.025}, {"g": "f", "l": "f4", "x": 0.0, "y": -0.029},
      {"g": "f", "l": "f4", "x": 0.028, "y": -0.055}, {"g": "f", "l": "f4", "x": 0.06, "y": -0.088}, {"g": "f", "l": "f4", "x": 0.093, "y": -0.122}, {"g": "f", "l": "f4", "x": 0.13, "y": -0.148}, {"g": "f", "l": "f4", "x": 0.158, "y": -0.157}, {"g": "f", "l": "f4", "x": 0.186, "y": -0.146}, {"g": "f", "l": "f4", "x": 0.201, "y": -0.121}, {"g": "f", "l": "f4", "x": 0.2, "y": -0.082}, {"g": "f", "l": "f4", "x": 0.182, "y": -0.044}, {"g": "f", "l": "f4", "x": 0.15, "y": -0.008}, {"g": "f", "l": "f4", "x": 0.112, "y": 0.008}, {"g": "f", "l": "f4", "x": 0.074, "y": 0.009}, {"g": "f", "l": "f4", "x": 0.037, "y": 0.007}, {"g": "f", "l": "f4", "x": 0.02, "y": 0.005}
    ]
  },
  "concat": [
    {
      "title": "a", "width": 319, "height": 243,
      "encoding": {
        "x": {"field": "x", "type": "quantitative", "scale": {"domain": [-0.61, 0.3], "nice": false, "zero": false}, "axis": null},
        "y": {"field": "y", "type": "quantitative", "scale": {"domain": [-0.3, 0.4], "nice": false, "zero": false}, "axis": null}
      },
      "layer": [
        {"data": {"name": "grid"}, "mark": {"type": "rule", "color": "#1a1a1a", "strokeWidth": 1.3}, "encoding": {"x2": {"field": "x2"}, "y2": {"field": "y2"}}},
        {"data": {"name": "axes"}, "mark": {"type": "rule", "color": "#000", "strokeWidth": 2.2}, "encoding": {"x2": {"field": "x2"}, "y2": {"field": "y2"}}},
        {"data": {"values": [{"x": 0, "y": 0}]}, "mark": {"type": "point", "filled": true, "color": "#000", "opacity": 1, "size": 95}},
        {"data": {"name": "xlab"}, "transform": [{"filter": "datum.g == 'a'"}], "mark": {"type": "text", "font": "DejaVu Sans", "fontStyle": "italic", "fontSize": 12, "dx": -2, "dy": -6, "baseline": "alphabetic", "color": "#000"}, "encoding": {"text": {"field": "t"}}},
        {"data": {"name": "ylab"}, "mark": {"type": "text", "font": "DejaVu Sans", "fontStyle": "italic", "fontSize": 12, "align": "right", "dx": -4, "baseline": "middle", "color": "#000"}, "encoding": {"text": {"field": "t"}}},
        {"data": {"name": "names"}, "transform": [{"filter": "datum.g == 'a'"}], "mark": {"type": "text", "font": "DejaVu Sans", "fontStyle": "italic", "fontSize": 14, "baseline": "middle", "color": "#000"}, "encoding": {"text": {"field": "t"}}}
      ]
    },
    {
      "title": "b", "width": 319, "height": 243,
      "encoding": {
        "x": {"field": "x", "type": "quantitative", "scale": {"domain": [-0.61, 0.3], "nice": false, "zero": false}, "axis": null},
        "y": {"field": "y", "type": "quantitative", "scale": {"domain": [-0.3, 0.4], "nice": false, "zero": false}, "axis": null}
      },
      "layer": [
        {"data": {"name": "grid"}, "mark": {"type": "rule", "color": "#1a1a1a", "strokeWidth": 1.3}, "encoding": {"x2": {"field": "x2"}, "y2": {"field": "y2"}}},
        {"data": {"name": "axes"}, "mark": {"type": "rule", "color": "#000", "strokeWidth": 2.2}, "encoding": {"x2": {"field": "x2"}, "y2": {"field": "y2"}}},
        {"data": {"name": "curves"}, "transform": [{"filter": "datum.g == 'b'"}], "mark": {"type": "line", "interpolate": "cardinal-closed", "color": "#000"}, "encoding": {"detail": {"field": "l"}, "order": {"value": null}, "strokeWidth": {"field": "l", "type": "nominal", "legend": null, "scale": {"domain": ["b1", "c1", "c2", "d1", "d2", "d3", "e1", "e2", "e3", "e4", "f1", "f2", "f3", "f4"], "range": [2.6, 2.3, 1.7, 2.2, 2.0, 1.8, 1.5, 2.6, 1.5, 1.6, 2.2, 2.4, 1.6, 1.9]}}}},
        {"data": {"name": "xlab"}, "transform": [{"filter": "datum.g == 'b'"}], "mark": {"type": "text", "font": "DejaVu Sans", "fontStyle": "italic", "fontSize": 12, "dx": -2, "dy": -6, "baseline": "alphabetic", "color": "#000"}, "encoding": {"text": {"field": "t"}}},
        {"data": {"name": "ylab"}, "mark": {"type": "text", "font": "DejaVu Sans", "fontStyle": "italic", "fontSize": 12, "align": "right", "dx": -4, "baseline": "middle", "color": "#000"}, "encoding": {"text": {"field": "t"}}},
        {"data": {"name": "names"}, "transform": [{"filter": "datum.g == 'b'"}], "mark": {"type": "text", "font": "DejaVu Sans", "fontStyle": "italic", "fontSize": 14, "baseline": "middle", "color": "#000"}, "encoding": {"text": {"field": "t"}}}
      ]
    },
    {
      "title": "c", "width": 319, "height": 243,
      "encoding": {
        "x": {"field": "x", "type": "quantitative", "scale": {"domain": [-0.61, 0.3], "nice": false, "zero": false}, "axis": null},
        "y": {"field": "y", "type": "quantitative", "scale": {"domain": [-0.3, 0.4], "nice": false, "zero": false}, "axis": null}
      },
      "layer": [
        {"data": {"name": "grid"}, "mark": {"type": "rule", "color": "#1a1a1a", "strokeWidth": 1.3}, "encoding": {"x2": {"field": "x2"}, "y2": {"field": "y2"}}},
        {"data": {"name": "axes"}, "mark": {"type": "rule", "color": "#000", "strokeWidth": 2.2}, "encoding": {"x2": {"field": "x2"}, "y2": {"field": "y2"}}},
        {"data": {"name": "curves"}, "transform": [{"filter": "datum.g == 'c'"}], "mark": {"type": "line", "interpolate": "cardinal-closed", "color": "#000"}, "encoding": {"detail": {"field": "l"}, "order": {"value": null}, "strokeWidth": {"field": "l", "type": "nominal", "legend": null, "scale": {"domain": ["b1", "c1", "c2", "d1", "d2", "d3", "e1", "e2", "e3", "e4", "f1", "f2", "f3", "f4"], "range": [2.6, 2.3, 1.7, 2.2, 2.0, 1.8, 1.5, 2.6, 1.5, 1.6, 2.2, 2.4, 1.6, 1.9]}}}},
        {"data": {"name": "xlab"}, "transform": [{"filter": "datum.g == 'c'"}], "mark": {"type": "text", "font": "DejaVu Sans", "fontStyle": "italic", "fontSize": 12, "dx": -2, "dy": -6, "baseline": "alphabetic", "color": "#000"}, "encoding": {"text": {"field": "t"}}},
        {"data": {"name": "ylab"}, "mark": {"type": "text", "font": "DejaVu Sans", "fontStyle": "italic", "fontSize": 12, "align": "right", "dx": -4, "baseline": "middle", "color": "#000"}, "encoding": {"text": {"field": "t"}}},
        {"data": {"name": "names"}, "transform": [{"filter": "datum.g == 'c'"}], "mark": {"type": "text", "font": "DejaVu Sans", "fontStyle": "italic", "fontSize": 14, "baseline": "middle", "color": "#000"}, "encoding": {"text": {"field": "t"}}}
      ]
    },
    {
      "title": "d", "width": 319, "height": 243,
      "encoding": {
        "x": {"field": "x", "type": "quantitative", "scale": {"domain": [-0.61, 0.3], "nice": false, "zero": false}, "axis": null},
        "y": {"field": "y", "type": "quantitative", "scale": {"domain": [-0.3, 0.4], "nice": false, "zero": false}, "axis": null}
      },
      "layer": [
        {"data": {"name": "grid"}, "mark": {"type": "rule", "color": "#1a1a1a", "strokeWidth": 1.3}, "encoding": {"x2": {"field": "x2"}, "y2": {"field": "y2"}}},
        {"data": {"name": "axes"}, "mark": {"type": "rule", "color": "#000", "strokeWidth": 2.2}, "encoding": {"x2": {"field": "x2"}, "y2": {"field": "y2"}}},
        {"data": {"name": "curves"}, "transform": [{"filter": "datum.g == 'd'"}], "mark": {"type": "line", "interpolate": "cardinal-closed", "color": "#000"}, "encoding": {"detail": {"field": "l"}, "order": {"value": null}, "strokeWidth": {"field": "l", "type": "nominal", "legend": null, "scale": {"domain": ["b1", "c1", "c2", "d1", "d2", "d3", "e1", "e2", "e3", "e4", "f1", "f2", "f3", "f4"], "range": [2.6, 2.3, 1.7, 2.2, 2.0, 1.8, 1.5, 2.6, 1.5, 1.6, 2.2, 2.4, 1.6, 1.9]}}}},
        {"data": {"name": "xlab"}, "transform": [{"filter": "datum.g == 'd'"}], "mark": {"type": "text", "font": "DejaVu Sans", "fontStyle": "italic", "fontSize": 12, "dx": -2, "dy": -6, "baseline": "alphabetic", "color": "#000"}, "encoding": {"text": {"field": "t"}}},
        {"data": {"name": "ylab"}, "mark": {"type": "text", "font": "DejaVu Sans", "fontStyle": "italic", "fontSize": 12, "align": "right", "dx": -4, "baseline": "middle", "color": "#000"}, "encoding": {"text": {"field": "t"}}},
        {"data": {"name": "names"}, "transform": [{"filter": "datum.g == 'd'"}], "mark": {"type": "text", "font": "DejaVu Sans", "fontStyle": "italic", "fontSize": 14, "baseline": "middle", "color": "#000"}, "encoding": {"text": {"field": "t"}}}
      ]
    },
    {
      "title": "e", "width": 319, "height": 243,
      "encoding": {
        "x": {"field": "x", "type": "quantitative", "scale": {"domain": [-0.61, 0.3], "nice": false, "zero": false}, "axis": null},
        "y": {"field": "y", "type": "quantitative", "scale": {"domain": [-0.3, 0.4], "nice": false, "zero": false}, "axis": null}
      },
      "layer": [
        {"data": {"name": "grid"}, "mark": {"type": "rule", "color": "#1a1a1a", "strokeWidth": 1.3}, "encoding": {"x2": {"field": "x2"}, "y2": {"field": "y2"}}},
        {"data": {"name": "axes"}, "mark": {"type": "rule", "color": "#000", "strokeWidth": 2.2}, "encoding": {"x2": {"field": "x2"}, "y2": {"field": "y2"}}},
        {"data": {"name": "curves"}, "transform": [{"filter": "datum.g == 'e'"}], "mark": {"type": "line", "interpolate": "cardinal-closed", "color": "#000"}, "encoding": {"detail": {"field": "l"}, "order": {"value": null}, "strokeWidth": {"field": "l", "type": "nominal", "legend": null, "scale": {"domain": ["b1", "c1", "c2", "d1", "d2", "d3", "e1", "e2", "e3", "e4", "f1", "f2", "f3", "f4"], "range": [2.6, 2.3, 1.7, 2.2, 2.0, 1.8, 1.5, 2.6, 1.5, 1.6, 2.2, 2.4, 1.6, 1.9]}}}},
        {"data": {"name": "xlab"}, "transform": [{"filter": "datum.g == 'e'"}], "mark": {"type": "text", "font": "DejaVu Sans", "fontStyle": "italic", "fontSize": 12, "dx": -2, "dy": -6, "baseline": "alphabetic", "color": "#000"}, "encoding": {"text": {"field": "t"}}},
        {"data": {"name": "ylab"}, "mark": {"type": "text", "font": "DejaVu Sans", "fontStyle": "italic", "fontSize": 12, "align": "right", "dx": -4, "baseline": "middle", "color": "#000"}, "encoding": {"text": {"field": "t"}}},
        {"data": {"name": "names"}, "transform": [{"filter": "datum.g == 'e'"}], "mark": {"type": "text", "font": "DejaVu Sans", "fontStyle": "italic", "fontSize": 14, "baseline": "middle", "color": "#000"}, "encoding": {"text": {"field": "t"}}}
      ]
    },
    {
      "title": "f", "width": 319, "height": 243,
      "encoding": {
        "x": {"field": "x", "type": "quantitative", "scale": {"domain": [-0.61, 0.3], "nice": false, "zero": false}, "axis": null},
        "y": {"field": "y", "type": "quantitative", "scale": {"domain": [-0.3, 0.4], "nice": false, "zero": false}, "axis": null}
      },
      "layer": [
        {"data": {"name": "grid"}, "mark": {"type": "rule", "color": "#1a1a1a", "strokeWidth": 1.3}, "encoding": {"x2": {"field": "x2"}, "y2": {"field": "y2"}}},
        {"data": {"name": "axes"}, "mark": {"type": "rule", "color": "#000", "strokeWidth": 2.2}, "encoding": {"x2": {"field": "x2"}, "y2": {"field": "y2"}}},
        {"data": {"name": "curves"}, "transform": [{"filter": "datum.g == 'f'"}], "mark": {"type": "line", "interpolate": "cardinal-closed", "color": "#000"}, "encoding": {"detail": {"field": "l"}, "order": {"value": null}, "strokeWidth": {"field": "l", "type": "nominal", "legend": null, "scale": {"domain": ["b1", "c1", "c2", "d1", "d2", "d3", "e1", "e2", "e3", "e4", "f1", "f2", "f3", "f4"], "range": [2.6, 2.3, 1.7, 2.2, 2.0, 1.8, 1.5, 2.6, 1.5, 1.6, 2.2, 2.4, 1.6, 1.9]}}}},
        {"data": {"name": "xlab"}, "transform": [{"filter": "datum.g == 'f'"}], "mark": {"type": "text", "font": "DejaVu Sans", "fontStyle": "italic", "fontSize": 12, "dx": -2, "dy": -6, "baseline": "alphabetic", "color": "#000"}, "encoding": {"text": {"field": "t"}}},
        {"data": {"name": "ylab"}, "mark": {"type": "text", "font": "DejaVu Sans", "fontStyle": "italic", "fontSize": 12, "align": "right", "dx": -4, "baseline": "middle", "color": "#000"}, "encoding": {"text": {"field": "t"}}},
        {"data": {"name": "names"}, "transform": [{"filter": "datum.g == 'f'"}], "mark": {"type": "text", "font": "DejaVu Sans", "fontStyle": "italic", "fontSize": 14, "baseline": "middle", "color": "#000"}, "encoding": {"text": {"field": "t"}}}
      ]
    }
  ]
}
